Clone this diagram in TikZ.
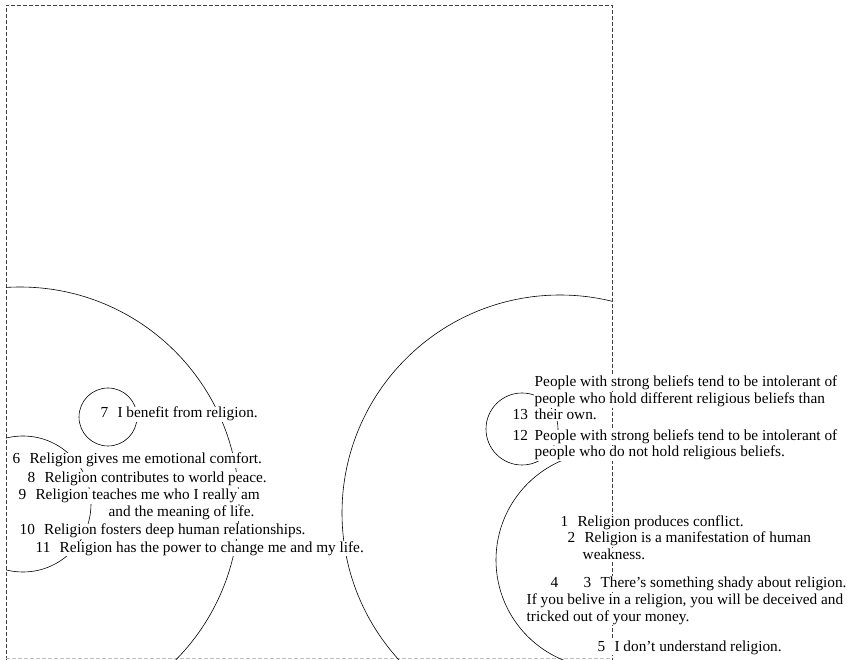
\documentclass[tikz,border=0pt]{standalone}
\usepackage{fontspec}
\setmainfont{Liberation Serif}
\begin{document}
\begin{tikzpicture}[x=1pt,y=-1pt,
    item/.style={fill=white, inner sep=0.5pt, anchor=base west, font=\fontsize{15.3}{17}\selectfont},
    ring/.style={line width=0.6pt},
    frame/.style={dash pattern=on 4pt off 2pt, line width=0.5pt, black!75}]
\useasboundingbox (0,0) rectangle (847,660);
% frame
\draw[frame] (6,660) -- (6,5) -- (612,5) -- (612,660);
\draw[frame, black!25] (6,658) -- (612,658);
% clusters
\begin{scope}
  \clip (6,5) rectangle (612,660);
  \draw[ring] (20,506) circle[radius=219];
  \draw[ring] (23,504) circle[radius=68];
  \draw[ring] (108,417) circle[radius=29];
  \draw[ring] (560,513) circle[radius=218];
  \draw[ring] (604,560) circle[radius=108];
  \draw[ring] (522,429) circle[radius=36];
\end{scope}
% statements, left group
\node[item] (s7) at (100,418) {7\hspace{0.6em}I benefit from religion.};
\node[item] (s6) at (12,464) {6\hspace{0.6em}Religion gives me emotional comfort.};
\node[item] (s8) at (27,483) {8\hspace{0.6em}Religion contributes to world peace.};
\node[item] (s9) at (18,500) {9\hspace{0.6em}Religion teaches me who I really am};
\node[item] (s9b) at (108,517) {and the meaning of life.};
\node[item] (s10) at (19,535) {10\hspace{0.6em}Religion fosters deep human relationships.};
\node[item] (s11) at (35,552) {11\hspace{0.6em}Religion has the power to change me and my life.};
% statements, right group
\node[item] (s13a) at (534,387) {People with strong beliefs tend to be intolerant of};
\node[item] (s13b) at (534,404) {people who hold different religious beliefs than};
\node[item] (n13) at (512,420) {13};
\node[item] (s13c) at (534,420) {their own.};
\node[item] (n12) at (512,441) {12};
\node[item] (s12a) at (534,441) {People with strong beliefs tend to be intolerant of};
\node[item] (s12b) at (534,457) {people who do not hold religious beliefs.};
\node[item] (s1) at (560,526) {1\hspace{0.6em}Religion produces conflict.};
\node[item] (s2) at (567,543) {2\hspace{0.6em}Religion is a manifestation of human};
\node[item] (s2b) at (582,559) {weakness.};
\node[item] (n4) at (550,587) {4};
\node[item] (s3) at (583,587) {3\hspace{0.6em}There’s something shady about religion.};
\node[item] (s3b) at (526,604) {If you belive in a religion, you will be deceived and};
\node[item] (s3c) at (526,621) {tricked out of your money.};
\node[item] (s5) at (597,651) {5\hspace{0.6em}I don’t understand religion.};
\end{tikzpicture}
\end{document}
